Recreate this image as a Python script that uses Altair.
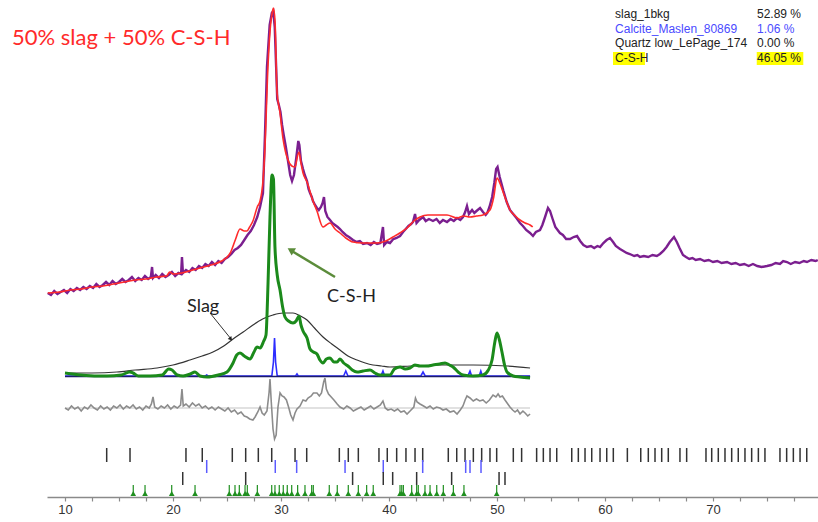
import altair as alt
import pandas as pd

# ---------------- data (2-theta in degrees, intensity in arbitrary units) ----------------
obs_deg = [8.40, 8.70, 9.00, 9.30, 9.60, 9.90, 10.20, 10.50, 10.80, 11.10, 11.40, 11.70, 12.00, 12.30,
           12.60, 12.90, 13.20, 13.50, 13.80, 14.10, 14.40, 14.70, 15.00, 15.30, 15.60, 15.90, 16.20,
           16.50, 16.80, 17.10, 17.40, 17.70, 17.95, 18.06, 18.15, 18.40, 18.70, 19.00, 19.30, 19.60,
           19.90, 20.20, 20.50, 20.75, 20.83, 20.92, 21.20, 21.50, 21.80, 22.10, 22.40, 22.70, 23.00,
           23.30, 23.60, 23.90, 24.20, 24.50, 24.80, 25.10, 25.40, 25.70, 26.00, 26.30, 26.60, 26.90,
           27.20, 27.50, 27.80, 28.06, 28.33, 28.52, 28.70, 28.95, 29.15, 29.28, 29.42, 29.55, 29.65,
           29.80, 29.95, 30.10, 30.25, 30.45, 30.65, 30.85, 31.02, 31.20, 31.40, 31.60, 31.70, 31.85,
           32.04, 32.20, 32.41, 32.55, 32.69, 32.85, 32.96, 33.15, 33.33, 33.50, 33.70, 33.85, 33.98,
           34.10, 34.30, 34.54, 34.75, 35.00, 35.25, 35.46, 35.70, 36.00, 36.30, 36.67, 37.00, 37.30,
           37.60, 37.96, 38.30, 38.60, 38.90, 39.20, 39.44, 39.55, 39.80, 40.09, 40.40, 40.70, 41.02,
           41.30, 41.55, 41.80, 42.05, 42.22, 42.41, 42.55, 42.80, 43.15, 43.40, 43.70, 44.07, 44.40,
           44.70, 45.00, 45.37, 45.70, 46.00, 46.30, 46.60, 46.85, 47.05, 47.22, 47.40, 47.69, 47.90,
           48.10, 48.43, 48.70, 48.95, 49.10, 49.30, 49.55, 49.75, 49.92, 50.05, 50.25, 50.45, 50.60,
           50.90, 51.20, 51.50, 51.80, 52.13, 52.40, 52.70, 53.06, 53.33, 53.60, 53.98, 54.20, 54.45,
           54.72, 54.91, 55.15, 55.40, 55.83, 56.10, 56.40, 56.76, 57.10, 57.41, 57.70, 58.00, 58.33,
           58.70, 59.00, 59.30, 59.54, 59.85, 60.15, 60.46, 60.75, 61.00, 61.39, 61.70, 62.00, 62.30,
           62.70, 63.00, 63.24, 63.60, 64.00, 64.40, 64.80, 65.09, 65.40, 65.70, 66.00, 66.39, 66.65,
           66.90, 67.22, 67.50, 67.80, 68.10, 68.40, 68.80, 69.20, 69.60, 70.00, 70.40, 70.80, 71.30,
           71.70, 72.10, 72.50, 72.90, 73.30, 73.70, 74.10, 74.50, 75.00, 75.40, 75.80, 76.20, 76.50,
           76.85, 77.20, 77.60, 78.00, 78.40, 78.70, 79.10, 79.50, 79.70]
obs_val = [204, 202, 206, 203, 205, 207, 204, 208, 206, 209, 207, 210, 208, 211,
           209, 213, 210, 212, 215, 212, 216, 213, 215, 218, 215, 217, 220,
           216, 219, 217, 221, 218, 220, 230, 219, 222, 219, 223, 220, 222,
           225, 221, 224, 223, 240, 224, 227, 225, 229, 227, 231, 229, 233,
           231, 235, 232, 236, 234, 238, 240, 243, 247, 249, 252, 257, 262,
           266, 272, 280, 290, 304, 364, 430, 472, 484, 486, 470, 430, 398,
           392, 385, 372, 362, 350, 336, 322, 316, 322, 338, 356, 352, 336,
           328, 322, 316, 308, 304, 300, 296, 292, 289, 287, 290, 294, 300,
           286, 280, 277, 274, 272, 270, 268, 265, 262, 260, 257, 255, 256,
           253, 254, 252, 255, 253, 254, 270, 252, 255, 254, 258, 259, 261,
           265, 268, 271, 273, 275, 283, 274, 277, 280, 276, 278, 276, 278,
           274, 277, 275, 278, 276, 279, 277, 280, 285, 291, 283, 287, 284,
           286, 289, 285, 282, 284, 290, 300, 314, 328, 330, 320, 312, 306,
           295, 287, 283, 279, 274, 271, 267, 264, 261, 265, 267, 272, 280,
           289, 286, 278, 270, 264, 262, 258, 258, 260, 261, 256, 252, 250,
           251, 249, 251, 250, 254, 257, 259, 255, 251, 248, 246, 244, 243,
           241, 242, 240, 241, 240, 242, 241, 243, 246, 250, 255, 260, 255,
           249, 242, 240, 238, 239, 237, 238, 236, 237, 235, 236, 234, 235,
           233, 234, 232, 233, 231, 233, 231, 230, 231, 232, 234, 233, 236,
           235, 233, 235, 234, 236, 235, 237, 236, 237]

calc_deg = [8.40, 9.50, 10.50, 11.50, 12.50, 13.50, 14.50, 15.50, 16.50, 17.50, 18.50, 19.40, 19.70,
            20.00, 20.80, 21.50, 22.50, 23.50, 24.50, 25.30, 25.80, 26.20, 26.60, 26.85, 27.10, 27.40,
            27.80, 28.06, 28.33, 28.52, 28.75, 29.00, 29.20, 29.30, 29.45, 29.63, 29.90, 30.19, 30.40,
            30.65, 31.00, 31.30, 31.55, 31.67, 31.85, 32.04, 32.41, 32.96, 33.33, 33.89, 34.20, 34.54,
            35.00, 35.46, 36.00, 36.67, 37.50, 38.89, 39.70, 40.37, 41.00, 41.67, 42.30, 42.87, 43.60,
            44.44, 45.37, 46.30, 46.90, 47.50, 48.10, 48.70, 49.35, 49.70, 50.00, 50.30, 50.56, 50.90,
            51.20, 51.70, 52.13, 52.60, 53.06, 53.30]
calc_val = [204, 205, 207, 208, 210, 211, 213, 215, 217, 218, 220, 221, 225,
            223, 224, 226, 229, 232, 236, 244, 258, 268, 266, 266, 270, 276,
            290, 296, 316, 350, 420, 468, 485, 489, 475, 405, 385, 358, 346,
            337, 331, 330, 342, 345, 334, 324, 315, 296, 286, 270, 272, 274,
            268, 264, 259, 255, 254, 254, 256, 260, 264, 269, 276, 280, 282,
            282, 282, 279, 281, 280, 281, 282, 287, 300, 319, 313, 305, 295,
            287, 281, 277, 274, 272, 270]

csh_deg = [10.00, 11.50, 13.00, 13.89, 15.20, 16.00, 16.30, 16.80, 17.87, 19.00, 19.60, 19.91, 20.40,
           20.93, 21.60, 22.04, 22.50, 23.15, 24.20, 25.00, 25.56, 25.90, 26.20, 26.60, 27.13, 27.50,
           27.78, 28.06, 28.40, 28.61, 28.80, 28.98, 29.17, 29.30, 29.44, 29.65, 29.91, 30.15, 30.37,
           30.70, 31.11, 31.40, 31.67, 31.85, 32.04, 32.41, 32.69, 33.00, 33.33, 33.60, 33.89, 34.20,
           34.54, 34.90, 35.19, 35.46, 35.80, 36.20, 36.60, 37.04, 37.60, 38.24, 38.70, 39.17, 40.09,
           40.50, 41.02, 41.50, 41.94, 42.40, 42.87, 43.50, 44.07, 44.70, 45.19, 45.60, 45.93, 46.40,
           46.85, 47.80, 48.70, 49.20, 49.54, 49.80, 50.00, 50.20, 50.46, 50.70, 50.93, 51.50, 52.13,
           53.06]
csh_val = [124, 122, 121, 121, 122, 125, 124, 121, 121, 122, 128, 127, 122,
           121, 123, 125, 121, 120, 122, 125, 134, 142, 144, 141, 138, 145,
           150, 149, 156, 162, 214, 280, 322, 318, 250, 222, 207, 190, 180,
           176, 174, 176, 181, 172, 166, 159, 148, 145, 143, 137, 134, 138,
           139, 135, 135, 138, 134, 131, 127, 125, 126, 127, 124, 122, 122,
           128, 130, 128, 129, 132, 131, 131, 132, 133, 134, 132, 130, 125,
           122, 121, 122, 127, 137, 155, 164, 158, 145, 132, 125, 121, 120,
           119]

slag_deg = [10.00, 12.50, 14.81, 16.50, 18.52, 20.00, 21.57, 22.70, 23.70, 24.70, 25.56, 26.50, 27.40,
            28.30, 29.26, 30.20, 31.11, 31.80, 32.41, 33.10, 33.89, 34.70, 35.46, 36.20, 37.04, 37.80,
            38.52, 39.30, 40.09, 42.00, 44.72, 47.78, 50.93, 53.06]
slag_val = [124, 124, 125, 127, 129, 132, 137, 141, 145, 151, 158, 165, 172,
            178, 182, 184, 184, 181, 177, 169, 160, 153, 147, 141, 137, 134,
            132, 131, 130, 131, 132, 132, 131, 129]

calcite_deg = [10.00, 23.00, 23.12, 23.25, 29.15, 29.30, 29.40, 29.50, 29.65, 31.35, 31.48, 31.60,
               35.80, 36.00, 36.20, 39.25, 39.44, 39.60, 42.95, 43.15, 43.35, 47.30, 47.50, 47.65,
               48.35, 48.50, 48.65, 53.06]
calcite_val = [121, 121, 122, 121, 121, 135, 159, 135, 121, 121, 123, 121,
               121, 126, 121, 121, 126, 121, 121, 125, 121, 121, 126, 121,
               121, 126, 121, 121]

diff_deg = [10.00, 10.30, 10.60, 10.90, 11.20, 11.50, 11.80, 12.10, 12.40, 12.70, 13.00, 13.30, 13.60,
            13.90, 14.20, 14.50, 14.80, 15.10, 15.40, 15.70, 16.00, 16.30, 16.60, 16.90, 17.20, 17.50,
            17.80, 18.00, 18.15, 18.30, 18.60, 18.90, 19.20, 19.50, 19.80, 20.10, 20.40, 20.70, 20.83,
            20.95, 21.20, 21.50, 21.80, 22.10, 22.40, 22.70, 23.00, 23.30, 23.60, 23.90, 24.20, 24.50,
            24.80, 25.10, 25.40, 25.70, 26.00, 26.30, 26.60, 26.85, 27.10, 27.40, 27.60, 27.85, 28.06,
            28.25, 28.45, 28.70, 28.90, 28.98, 29.10, 29.26, 29.40, 29.55, 29.72, 29.91, 30.10, 30.28,
            30.50, 30.70, 30.90, 31.11, 31.30, 31.48, 31.76, 32.04, 32.30, 32.50, 32.80, 33.00, 33.33,
            33.55, 33.75, 33.95, 34.07, 34.20, 34.40, 34.65, 34.90, 35.20, 35.46, 35.80, 36.10, 36.40,
            36.70, 37.04, 37.40, 37.70, 38.00, 38.30, 38.60, 38.90, 39.20, 39.44, 39.65, 39.90, 40.20,
            40.50, 40.80, 41.10, 41.40, 41.67, 41.95, 42.30, 42.45, 42.60, 42.87, 43.20, 43.50, 43.80,
            44.10, 44.40, 44.72, 45.00, 45.30, 45.65, 46.00, 46.30, 46.60, 46.85, 47.05, 47.22, 47.50,
            47.80, 48.10, 48.40, 48.70, 49.00, 49.30, 49.63, 49.90, 50.10, 50.28, 50.50, 50.74, 51.00,
            51.20, 51.45, 51.67, 51.90, 52.13, 52.40, 52.60, 52.85, 53.06]
diff_val = [89, 87, 91, 88, 90, 86, 90, 88, 92, 89, 87, 91, 88,
            90, 87, 91, 89, 92, 88, 91, 89, 92, 88, 90, 87, 91,
            89, 93, 100, 90, 88, 91, 89, 92, 88, 91, 89, 92, 108,
            91, 93, 90, 94, 91, 93, 89, 91, 88, 90, 87, 90, 88,
            86, 89, 85, 87, 83, 85, 81, 80, 78, 77, 80, 85, 90,
            84, 82, 86, 105, 118, 95, 68, 58, 62, 90, 104, 101, 100,
            97, 90, 82, 77, 84, 88, 91, 97, 96, 99, 101, 104, 104,
            101, 104, 115, 119, 108, 103, 100, 97, 93, 90, 88, 91, 89,
            86, 88, 90, 87, 89, 91, 88, 90, 92, 96, 89, 87, 88,
            86, 88, 85, 86, 83, 86, 90, 99, 95, 93, 91, 89, 91,
            88, 90, 89, 87, 88, 85, 86, 83, 87, 91, 97, 101, 99,
            96, 98, 96, 97, 94, 97, 102, 100, 103, 100, 101, 97, 93,
            90, 87, 85, 87, 83, 86, 84, 81, 83]
diff_zero = 89

# reflection (tick) positions
slag_ticks = [13.86, 16.02, 21.20, 22.71, 25.49, 26.73, 27.90, 29.14, 31.30, 32.38, 35.40, 36.23,
              37.16, 39.07, 39.84, 40.71, 41.57, 42.41, 43.12, 45.49, 46.27, 47.04, 47.81, 48.58,
              49.35, 49.97, 51.51, 52.28, 53.67, 54.29, 54.91, 55.53, 56.92, 57.53, 58.15, 58.77,
              59.54, 60.16, 60.77, 62.07, 63.31, 64.01, 64.63, 65.25, 65.86, 66.94, 67.56, 69.35,
              69.88, 70.49, 71.11, 71.73, 72.34, 72.96, 73.58, 74.20, 74.81, 76.20, 76.82, 77.44,
              78.06, 78.68]
calcite_ticks = [23.12, 29.47, 31.45, 35.93, 39.47, 43.12, 47.10, 47.50, 48.52]
quartz_ticks = [20.90, 26.73, 36.63, 39.47, 40.34, 42.56, 45.80, 50.19, 50.74]
csh_ticks = [16.32, 17.41, 19.88, 22.04, 25.21, 25.74, 26.14, 26.67, 26.88, 27.81, 29.14, 29.44,
             29.84, 30.21, 30.58, 30.99, 31.54, 32.22, 32.84, 32.99, 34.47, 35.21, 36.23, 37.16,
             37.93, 38.54, 41.02, 41.18, 41.33, 42.10, 42.56, 42.71, 43.33, 43.80, 44.42, 45.03,
             45.96, 46.94, 49.97]

legend_names = ["slag_1bkg", "Calcite_Maslen_80869", "Quartz low_LePage_174", "C-S-H"]
legend_pct = ["52.89 %", "1.06 %", "0.00 %", "46.05 %"]
legend_colors = ["#222222", "#4a4aff", "#222222", "#222222"]

title_text = "50% slag + 50% C-S-H"
axis_values = [10, 12.5, 15, 17.5, 20, 22.5, 25, 27.5, 30, 32.5, 35, 37.5, 40, 42.5, 45, 47.5,
               50, 52.5, 55, 57.5, 60, 62.5, 65, 67.5, 70, 72.5, 75, 77.5]

# ---------------- scales ----------------
xs = alt.Scale(domain=[8.333, 79.722], nice=False, zero=False)
ys = alt.Scale(domain=[0, 497], nice=False, zero=False)
xaxis = alt.Axis(values=axis_values, labelExpr="datum.value % 10 == 0 ? datum.label : ''",
                 grid=False, domainColor="#8a8a8a", domainWidth=1.5, tickColor="#8a8a8a",
                 tickWidth=1.2, tickSize=4, labelFontSize=13, labelColor="#333333",
                 labelFont="Liberation Sans", labelPadding=2, title=None)
X = alt.X("deg:Q", scale=xs, axis=xaxis)
Y = alt.Y("val:Q", scale=ys, axis=None)


def line_df(d, v):
    return pd.DataFrame({"deg": d, "val": v})


obs = alt.Chart(line_df(obs_deg, obs_val)).mark_line(color="#7b1f8f", strokeWidth=2.4).encode(x=X, y=Y)
calc = alt.Chart(line_df(calc_deg, calc_val)).mark_line(color="#ff2b2b", strokeWidth=1.6,
                                                        interpolate="monotone").encode(x=X, y=Y)
slag = alt.Chart(line_df(slag_deg, slag_val)).mark_line(color="#333333", strokeWidth=1.2,
                                                        interpolate="monotone").encode(x=X, y=Y)
calcite = alt.Chart(line_df(calcite_deg, calcite_val)).mark_line(color="#2d2dff", strokeWidth=1.6).encode(x=X, y=Y)
base = alt.Chart(line_df([10.0, 53.06], [120.5, 120.5])).mark_line(color="#1c1c6b", strokeWidth=1.5).encode(x=X, y=Y)
csh = alt.Chart(line_df(csh_deg, csh_val)).mark_line(color="#1b8a1b", strokeWidth=3,
                                                     interpolate="monotone").encode(x=X, y=Y)
diff_base = alt.Chart(line_df([10.0, 53.06], [diff_zero, diff_zero])).mark_line(
    color="#c4c4c4", strokeWidth=1.2).encode(x=X, y=Y)
diff = alt.Chart(line_df(diff_deg, diff_val)).mark_line(color="#8c8c8c", strokeWidth=1.6).encode(x=X, y=Y)


def tick_layer(pos, lo, hi, color, width=1.5):
    df = pd.DataFrame({"deg": pos, "lo": [lo] * len(pos), "hi": [hi] * len(pos)})
    return alt.Chart(df).mark_rule(color=color, strokeWidth=width).encode(
        x=X, y=alt.Y("lo:Q", scale=ys, axis=None), y2="hi:Q")


t1 = tick_layer(slag_ticks, 35, 49, "#333333")
t2 = tick_layer(calcite_ticks, 24, 37, "#5b5bff")
t3 = tick_layer(quartz_ticks, 12, 25, "#333333")
t4 = tick_layer(csh_ticks, 1, 12, "#1f8f1f", 1.2)
t4p = alt.Chart(pd.DataFrame({"deg": csh_ticks, "val": [3.5] * len(csh_ticks)})).mark_point(
    shape="triangle-up", filled=True, color="#1f8f1f", size=32, opacity=1).encode(x=X, y=Y)

# annotations
def text_layer(d, v, txt, color, size, font="Lato", align="left"):
    df = pd.DataFrame({"deg": [d], "val": [v], "t": [txt]})
    return alt.Chart(df).mark_text(color=color, fontSize=size, font=font, align=align,
                                   baseline="alphabetic").encode(x=X, y=Y, text="t:N")


title = text_layer(5.09, 452, title_text, "#ff2a2a", 22)
slag_lbl = text_layer(21.30, 185, "Slag", "#222222", 18)
csh_lbl = text_layer(34.26, 195, "C-S-H", "#222222", 18)

slag_arrow = alt.Chart(line_df([23.43, 25.30], [184, 159])).mark_line(color="#333333", strokeWidth=1).encode(x=X, y=Y)
slag_head = alt.Chart(line_df([25.35], [158])).mark_point(shape="triangle-up", filled=True, color="#222222",
                                                          size=22, angle=141, opacity=1).encode(x=X, y=Y)
csh_arrow = alt.Chart(line_df([35.0, 31.0], [220, 246])).mark_line(color="#5b8c3a", strokeWidth=2.5).encode(x=X, y=Y)
csh_head = alt.Chart(line_df([30.9], [247])).mark_point(shape="triangle-up", filled=True, color="#5b8c3a",
                                                        size=70, angle=301, opacity=1).encode(x=X, y=Y)

# legend table (top right)
rows = list(range(len(legend_names)))
leg_df = pd.DataFrame({
    "name": legend_names, "pct": legend_pct, "color": legend_colors,
    "val": [479 - 14.6 * i for i in rows],
    "deg": [60.93] * len(rows), "deg2": [74.07] * len(rows)})
hl_df = pd.DataFrame({"deg": [60.74, 74.05], "d2": [63.70, 78.36], "val": [432, 432], "v2": [445, 445]})
highlight = alt.Chart(hl_df).mark_rect(color="#ffff00").encode(
    x=X, x2="d2:Q", y=Y, y2="v2:Q")
leg_names = alt.Chart(leg_df).mark_text(align="left", baseline="alphabetic", fontSize=12,
                                        font="Liberation Sans").encode(
    x=X, y=Y, text="name:N", color=alt.Color("color:N", scale=None))
leg_pct = alt.Chart(leg_df).mark_text(align="left", baseline="alphabetic", fontSize=12,
                                      font="Liberation Sans").encode(
    x=alt.X("deg2:Q", scale=xs, axis=xaxis), y=Y, text="pct:N", color=alt.Color("color:N", scale=None))

chart = alt.layer(
    obs, calc, slag, calcite, base, csh, diff_base, diff,
    t1, t2, t3, t4, t4p,
    slag_arrow, slag_head, csh_arrow, csh_head,
    title, slag_lbl, csh_lbl,
    highlight, leg_names, leg_pct
).properties(
    width=771, height=497,
    autosize=alt.AutoSizeParams(type="none"),
    padding={"left": 47, "top": 0, "right": 0, "bottom": 25},
    background="white"
).configure_view(stroke=None)

chart.save("out.html", embed_options={"renderer": "svg", "actions": False})
